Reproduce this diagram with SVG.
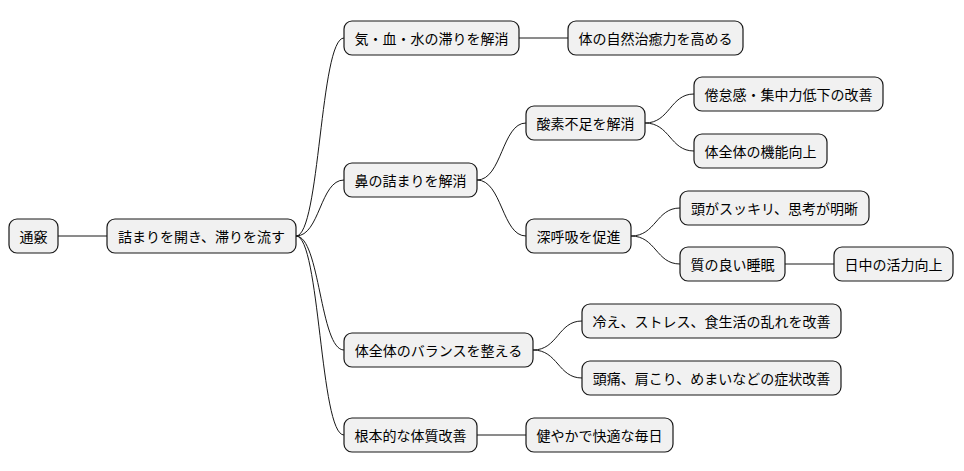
<svg xmlns="http://www.w3.org/2000/svg" width="964" height="471" viewBox="0 0 964 471">
<style>
.n rect{fill:#f1f1f1;stroke:#181818;stroke-width:1.2}
.n text{font-family:"Noto Sans CJK JP","Noto Sans CJK SC",sans-serif;font-size:14px;fill:#000;text-anchor:middle;dominant-baseline:central}
#c path{fill:none;stroke:#181818;stroke-width:1}
</style>
<rect width="964" height="471" fill="#fff"/>
<g id="c">
<path d="M58,236 L107,236"/>
<path d="M296,236 C320,236 320,38 344,38"/>
<path d="M296,236 C320,236 320,180 344,180"/>
<path d="M296,236 C320,236 320,350 344,350"/>
<path d="M296,236 C320,236 320,435 344,435"/>
<path d="M519,38 L568,38"/>
<path d="M477,180 C502,180 502,123 526,123"/>
<path d="M477,180 C502,180 502,236 526,236"/>
<path d="M645,123 C670,123 670,94 694,94"/>
<path d="M645,123 C670,123 670,151 694,151"/>
<path d="M631,236 C656,236 656,208 680,208"/>
<path d="M631,236 C656,236 656,264 680,264"/>
<path d="M785,264 L834,264"/>
<path d="M533,350 C558,350 558,321 582,321"/>
<path d="M533,350 C558,350 558,378 582,378"/>
<path d="M477,435 L526,435"/>
</g>
<g id="n1" class="n"><rect x="9" y="219" width="49" height="34" rx="8"/><text x="33.5" y="236">通竅</text></g>
<g id="n2" class="n"><rect x="107" y="219" width="189" height="34" rx="8"/><text x="201.5" y="236">詰まりを開き、滞りを流す</text></g>
<g id="n3" class="n"><rect x="344" y="21" width="175" height="34" rx="8"/><text x="431.5" y="38">気・血・水の滞りを解消</text></g>
<g id="n4" class="n"><rect x="568" y="21" width="175" height="34" rx="8"/><text x="655.5" y="38">体の自然治癒力を高める</text></g>
<g id="n5" class="n"><rect x="344" y="163" width="133" height="34" rx="8"/><text x="410.5" y="180">鼻の詰まりを解消</text></g>
<g id="n6" class="n"><rect x="526" y="106" width="119" height="34" rx="8"/><text x="585.5" y="123">酸素不足を解消</text></g>
<g id="n7" class="n"><rect x="694" y="77" width="189" height="34" rx="8"/><text x="788.5" y="94">倦怠感・集中力低下の改善</text></g>
<g id="n8" class="n"><rect x="694" y="134" width="133" height="34" rx="8"/><text x="760.5" y="151">体全体の機能向上</text></g>
<g id="n9" class="n"><rect x="526" y="219" width="105" height="34" rx="8"/><text x="578.5" y="236">深呼吸を促進</text></g>
<g id="n10" class="n"><rect x="680" y="191" width="189" height="34" rx="8"/><text x="774.5" y="208">頭がスッキリ、思考が明晰</text></g>
<g id="n11" class="n"><rect x="680" y="247" width="105" height="34" rx="8"/><text x="732.5" y="264">質の良い睡眠</text></g>
<g id="n12" class="n"><rect x="834" y="247" width="119" height="34" rx="8"/><text x="893.5" y="264">日中の活力向上</text></g>
<g id="n13" class="n"><rect x="344" y="333" width="189" height="34" rx="8"/><text x="438.5" y="350">体全体のバランスを整える</text></g>
<g id="n14" class="n"><rect x="582" y="304" width="259" height="34" rx="8"/><text x="711.5" y="321">冷え、ストレス、食生活の乱れを改善</text></g>
<g id="n15" class="n"><rect x="582" y="361" width="259" height="34" rx="8"/><text x="711.5" y="378">頭痛、肩こり、めまいなどの症状改善</text></g>
<g id="n16" class="n"><rect x="344" y="418" width="133" height="34" rx="8"/><text x="410.5" y="435">根本的な体質改善</text></g>
<g id="n17" class="n"><rect x="526" y="418" width="147" height="34" rx="8"/><text x="599.5" y="435">健やかで快適な毎日</text></g>
</svg>
